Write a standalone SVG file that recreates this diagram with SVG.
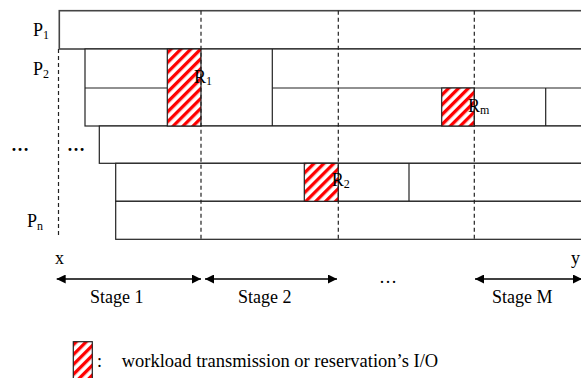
<svg xmlns="http://www.w3.org/2000/svg" width="581" height="378" viewBox="0 0 581 378">
<style>
.box{fill:#fff;stroke:#222;stroke-width:1.2}
.ln{stroke:#222;stroke-width:1.2;fill:none}
.hat{fill:url(#hatch);stroke:#222;stroke-width:1.2}
.dash{stroke:#222;stroke-width:1.2;stroke-dasharray:4 3;fill:none}
.t{font-family:"Liberation Serif","Times New Roman",serif;font-size:18px;fill:#000}
.s{font-size:12px}
.arr{stroke:#000;stroke-width:1.5;fill:none;marker-start:url(#ah);marker-end:url(#ah)}
</style>
<defs>
<pattern id="hatch" patternUnits="userSpaceOnUse" width="7" height="7" patternTransform="rotate(45)">
<rect width="7" height="7" fill="#fff"/><rect width="3.3" height="7" fill="#f00"/>
</pattern>
<marker id="ah" viewBox="0 0 8 8" refX="8" refY="4" markerWidth="9" markerHeight="9" markerUnits="userSpaceOnUse" orient="auto-start-reverse">
<path d="M0,0 L8,4 L0,8 z" fill="#000"/>
</marker>
</defs>

<g id="row-p1">
<rect class="box" x="59.3" y="10.7" width="540" height="38.3" style="stroke:#444;stroke-width:1.6"/>
</g>
<g id="row-p2">
<rect class="box" x="85" y="49" width="520" height="77"/>
<line class="ln" x1="85" y1="88" x2="167.3" y2="88"/>
<line class="ln" x1="272.3" y1="88" x2="600" y2="88"/>
<line class="ln" x1="272.3" y1="49" x2="272.3" y2="126"/>
<line class="ln" x1="545.7" y1="88" x2="545.7" y2="126"/>
</g>
<g id="row-3">
<rect class="box" x="99.3" y="126" width="500" height="37.3"/>
</g>
<g id="row-4">
<rect class="box" x="115.7" y="163.3" width="500" height="38"/>
<line class="ln" x1="409" y1="163.3" x2="409" y2="201.3"/>
</g>
<g id="row-pn">
<rect class="box" x="115.7" y="201.3" width="500" height="38"/>
</g>
<g id="r1"><rect class="hat" x="167.3" y="49" width="33.7" height="77"/></g>
<g id="rm"><rect class="hat" x="441.7" y="88" width="32.6" height="38"/></g>
<g id="r2"><rect class="hat" x="304.3" y="163.3" width="34" height="38"/></g>

<g id="stage-lines">
<line class="dash" x1="58.5" y1="49" x2="58.5" y2="237"/>
<line class="dash" x1="201" y1="10.7" x2="201" y2="239"/>
<line class="dash" x1="338.3" y1="10.7" x2="338.3" y2="239"/>
<line class="dash" x1="474.3" y1="10.7" x2="474.3" y2="239"/>
</g>

<g id="labels" class="t">
<text class="t" x="33" y="36">P<tspan class="s" dy="3">1</tspan></text>
<text class="t" x="33" y="75">P<tspan class="s" dy="3">2</tspan></text>
<text class="t" x="27" y="227">P<tspan class="s" dy="3">n</tspan></text>
<text class="t" x="11" y="151" font-weight="bold">…</text>
<text class="t" x="67" y="151" font-weight="bold">…</text>
<text class="t" x="194" y="83">R<tspan class="s" dy="2">1</tspan></text>
<text class="t" x="468" y="112">R<tspan class="s" dy="2">m</tspan></text>
<text class="t" x="331.7" y="186">R<tspan class="s" dy="2">2</tspan></text>
<text class="t" x="55" y="264">x</text>
<text class="t" x="571" y="264">y</text>
<text class="t" x="379" y="283">…</text>
<text class="t" x="90" y="303">Stage 1</text>
<text class="t" x="238" y="303">Stage 2</text>
<text class="t" x="492" y="303">Stage M</text>
</g>

<g id="connectors">
<line class="arr" x1="56.7" y1="279" x2="201" y2="279"/>
<line class="arr" x1="205" y1="279" x2="337" y2="279"/>
<line class="arr" x1="475" y1="279" x2="582" y2="279"/>
</g>

<g id="legend">
<rect class="hat" x="73.3" y="341.7" width="19" height="40"/>
<text class="t" x="97" y="367">:</text>
<text class="t" x="121.7" y="367" style="font-size:18.5px">workload transmission or reservation’s I/O</text>
</g>
</svg>
